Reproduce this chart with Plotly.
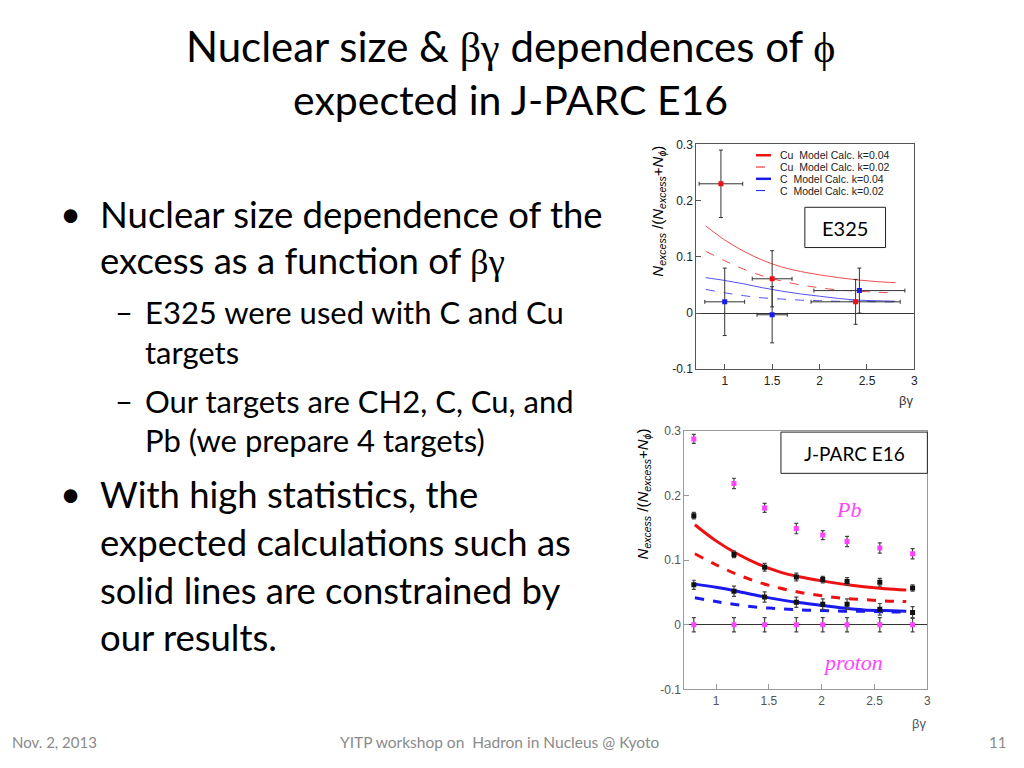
import plotly.graph_objects as go

# ---------------- data ----------------
# model curves
model_bg = [0.8, 1.0, 1.2, 1.4, 1.6, 1.8, 2.0, 2.2, 2.4, 2.6, 2.8]
cu_k04 = [0.155, 0.130, 0.110, 0.094, 0.082, 0.074, 0.068, 0.063, 0.059, 0.056, 0.054]
cu_k02 = [0.110, 0.093, 0.078, 0.066, 0.057, 0.050, 0.045, 0.041, 0.039, 0.037, 0.036]
c_k04 = [0.063, 0.058, 0.052, 0.045, 0.039, 0.034, 0.030, 0.026, 0.023, 0.022, 0.021]
c_k02 = [0.042, 0.036, 0.031, 0.027, 0.025, 0.023, 0.022, 0.021, 0.021, 0.020, 0.020]

# E325 measured points
e325_cu_bg = [0.96, 1.50, 2.38]
e325_cu_val = [0.230, 0.061, 0.020]
e325_cu_ey = [0.060, 0.050, 0.040]
e325_cu_ex = [0.23, 0.21, 0.47]
e325_c_bg = [1.00, 1.50, 2.42]
e325_c_val = [0.020, -0.003, 0.040]
e325_c_ey = [0.060, 0.050, 0.040]
e325_c_ex = [0.21, 0.16, 0.48]

# J-PARC E16 expected points
e16_bg = [0.79, 1.17, 1.46, 1.76, 2.01, 2.24, 2.55, 2.86]
e16_pb = [0.288, 0.219, 0.181, 0.149, 0.139, 0.129, 0.119, 0.110]
e16_pb_err = [0.007, 0.008, 0.007, 0.008, 0.007, 0.008, 0.008, 0.008]
e16_cu = [0.169, 0.109, 0.089, 0.074, 0.070, 0.067, 0.066, 0.057]
e16_cu_err = [0.005, 0.005, 0.006, 0.006, 0.005, 0.006, 0.006, 0.005]
e16_c = [0.062, 0.052, 0.043, 0.035, 0.032, 0.032, 0.024, 0.019]
e16_c_err = [0.007, 0.008, 0.008, 0.008, 0.008, 0.008, 0.009, 0.009]
e16_p = [0.0, 0.0, 0.0, 0.0, 0.0, 0.0, 0.0, 0.0]
e16_p_err = [0.011, 0.011, 0.011, 0.011, 0.011, 0.011, 0.011, 0.011]

legend_labels = ["Cu  Model Calc. k=0.04", "Cu  Model Calc. k=0.02",
                 "C  Model Calc. k=0.04", "C  Model Calc. k=0.02"]
x_ticks = [1, 1.5, 2, 2.5, 3]
x_tick_text = ["1", "1.5", "2", "2.5", "3"]
y_ticks = [-0.1, 0, 0.1, 0.2, 0.3]
y_tick_text = ["-0.1", "0", "0.1", "0.2", "0.3"]

# ---------------- helpers ----------------
W, H = 1024, 768
def px(x):
    return x / W
def py(y):
    return 1 - y / H

RED = "#ee1111"
BLUE = "#1a1aee"
MAG = "#ff44ff"
ERR = "#333333"

fig = go.Figure()

# ---------- top chart (E325) ----------
curves = [(cu_k04, RED, "solid"), (cu_k02, RED, "dash"),
          (c_k04, BLUE, "solid"), (c_k02, BLUE, "dash")]
for vals, col, dash in curves:
    fig.add_trace(go.Scatter(x=model_bg, y=vals, mode="lines", line_shape="spline",
                             line=dict(color=col, dash=dash, width=1),
                             xaxis="x", yaxis="y", showlegend=False, opacity=0.75))

fig.add_trace(go.Scatter(x=e325_cu_bg, y=e325_cu_val, mode="markers",
                         marker=dict(symbol="square", size=5, color=RED),
                         error_y=dict(type="data", array=e325_cu_ey, color=ERR, thickness=1, width=2),
                         error_x=dict(type="data", array=e325_cu_ex, color=ERR, thickness=1, width=2),
                         xaxis="x", yaxis="y", showlegend=False))
fig.add_trace(go.Scatter(x=e325_c_bg, y=e325_c_val, mode="markers",
                         marker=dict(symbol="square", size=5, color=BLUE),
                         error_y=dict(type="data", array=e325_c_ey, color=ERR, thickness=1, width=2),
                         error_x=dict(type="data", array=e325_c_ex, color=ERR, thickness=1, width=2),
                         xaxis="x", yaxis="y", showlegend=False))

# ---------- bottom chart (J-PARC E16) ----------
for vals, col, dash in curves:
    fig.add_trace(go.Scatter(x=model_bg, y=vals, mode="lines", line_shape="spline",
                             line=dict(color=col, dash=dash, width=3),
                             xaxis="x2", yaxis="y2", showlegend=False))

for vals, errs, col in [(e16_cu, e16_cu_err, "#111111"), (e16_c, e16_c_err, "#111111"),
                        (e16_pb, e16_pb_err, MAG), (e16_p, e16_p_err, MAG)]:
    fig.add_trace(go.Scatter(x=e16_bg, y=vals, mode="markers",
                             marker=dict(symbol="square", size=5, color=col),
                             error_y=dict(type="data", array=errs, color="#444444", thickness=1.2, width=2),
                             xaxis="x2", yaxis="y2", showlegend=False))

tickfont_top = dict(family="Liberation Sans", size=12, color="#222222")
tickfont_bot = dict(family="Liberation Sans", size=12, color="#555555")

axis_common = dict(showgrid=False, ticks="inside", showline=True, mirror=True)

fig.update_layout(
    width=W, height=H, margin=dict(l=0, r=0, t=0, b=0),
    paper_bgcolor="white", plot_bgcolor="white",
    xaxis=dict(domain=[px(699), px(918)], range=[0.7, 3.0], tickvals=x_ticks, ticktext=x_tick_text,
               tickfont=tickfont_top, linecolor="#555555", tickcolor="#555555", ticklen=5,
               zeroline=False, anchor="y", **axis_common),
    yaxis=dict(domain=[py(369), py(140)], range=[-0.1, 0.3], tickvals=y_ticks, ticktext=y_tick_text,
               tickfont=tickfont_top, linecolor="#555555", tickcolor="#555555", ticklen=5,
               zeroline=True, zerolinecolor="#333333", zerolinewidth=1, anchor="x", **axis_common),
    xaxis2=dict(domain=[px(687), px(931)], range=[0.70, 3.0], tickvals=x_ticks, ticktext=x_tick_text,
                tickfont=tickfont_bot, linecolor="#999999", tickcolor="#999999", ticklen=5,
                zeroline=False, anchor="y2", **axis_common),
    yaxis2=dict(domain=[py(695), py(432)], range=[-0.1, 0.3], tickvals=y_ticks, ticktext=y_tick_text,
                tickfont=tickfont_bot, linecolor="#999999", tickcolor="#999999", ticklen=5,
                zeroline=True, zerolinecolor="#333333", zerolinewidth=1.2, anchor="x2", **axis_common),
)

ann = []
shapes = []
CAL = "Lato"
GREEK = "font-family:'Liberation Serif'"

def text(x, y, s, size, color="black", xanchor="left", family=CAL, **kw):
    ann.append(dict(x=px(x), y=py(y), xref="paper", yref="paper", text=s, showarrow=False,
                    xanchor=xanchor, yanchor="middle", font=dict(family=family, size=size, color=color), **kw))

# title
text(512, 40, "Nuclear size &amp; <span style=\"%s\">βγ</span> dependences of <span style=\"%s\">ϕ</span>" % (GREEK, GREEK),
     42, xanchor="center")
text(512, 94, "expected in J-PARC E16", 41, xanchor="center")

# bullets
BS = 36.5
SS = 31
text(58, 210, "•", BS)
text(98, 211, "Nuclear size dependence of the", BS)
text(98, 258, "excess as a function of <span style=\"%s\">βγ</span>" % GREEK, BS)
text(113, 310, "–", SS)
text(144, 311, "E325 were used with C and Cu", SS)
text(144, 351, "targets", SS)
text(113, 400, "–", SS)
text(144, 401, "Our targets are CH2, C, Cu, and", SS)
text(144, 441, "Pb (we prepare 4 targets)", SS)
text(58, 495, "•", BS)
text(98, 496, "With high statistics, the", BS)
text(98, 545, "expected calculations such as", BS)
text(98, 594, "solid lines are constrained by", BS)
text(98, 642, "our results.", BS)

# footer
text(10, 749, "Nov. 2, 2013", 15, color="#8a8a8a")
text(502, 749, "YITP workshop on  Hadron in Nucleus @ Kyoto", 15.5, color="#8a8a8a", xanchor="center")
text(1012, 749, "11", 15, color="#8a8a8a", xanchor="right")

# axis titles
ytitle = "<i>N</i><sub><i>excess</i></sub> /(<i>N</i><sub><i>excess</i></sub>+<i>N</i><sub><i>ϕ</i></sub>)"
text(661, 208, ytitle, 15, family="Liberation Sans", xanchor="center", textangle=-90)
text(646, 496, ytitle, 15, family="Liberation Sans", xanchor="center", textangle=-90)
text(910, 401, "βγ", 13, family="Liberation Sans", color="#333333", xanchor="center")
text(923, 730, "βγ", 13, family="Liberation Sans", color="#555555", xanchor="center")

# legend of top chart
leg_y = [151, 163, 175, 187]
leg_style = [(RED, "solid", 2.5), (RED, "dash", 1), (BLUE, "solid", 2.5), (BLUE, "dash", 1)]
for yy, lab, (col, dash, w) in zip(leg_y, legend_labels, leg_style):
    shapes.append(dict(type="line", xref="paper", yref="paper", x0=px(759), x1=px(774),
                       y0=py(yy), y1=py(yy), line=dict(color=col, dash=dash, width=w)))
    text(781, yy, lab, 10.5, family="Liberation Sans", color="#222222")

# text boxes
shapes.append(dict(type="rect", xref="paper", yref="paper", x0=px(808), x1=px(889), y0=py(245), y1=py(204),
                   line=dict(color="#222222", width=1), fillcolor="white"))
text(848.5, 225, "E325", 20, xanchor="center")
shapes.append(dict(type="rect", xref="paper", yref="paper", x0=px(784), x1=px(931), y0=py(475), y1=py(433),
                   line=dict(color="#222222", width=1), fillcolor="white"))
text(857.5, 455, "J-PARC E16", 19, xanchor="center")

# Pb / proton labels (data coords)
ann.append(dict(x=2.25, y=0.179, xref="x2", yref="y2", text="<i>Pb</i>", showarrow=False,
                font=dict(family="Liberation Serif", size=22, color=MAG)))
ann.append(dict(x=2.30, y=-0.058, xref="x2", yref="y2", text="<i>proton</i>", showarrow=False,
                font=dict(family="Liberation Serif", size=22, color=MAG)))

fig.update_layout(annotations=ann, shapes=shapes)

post = """
document.documentElement.style.margin='0px';
document.body.style.margin='0px';
document.body.style.overflow='hidden';
"""
fig.write_html("out.html", config={"displayModeBar": False}, post_script=post)
